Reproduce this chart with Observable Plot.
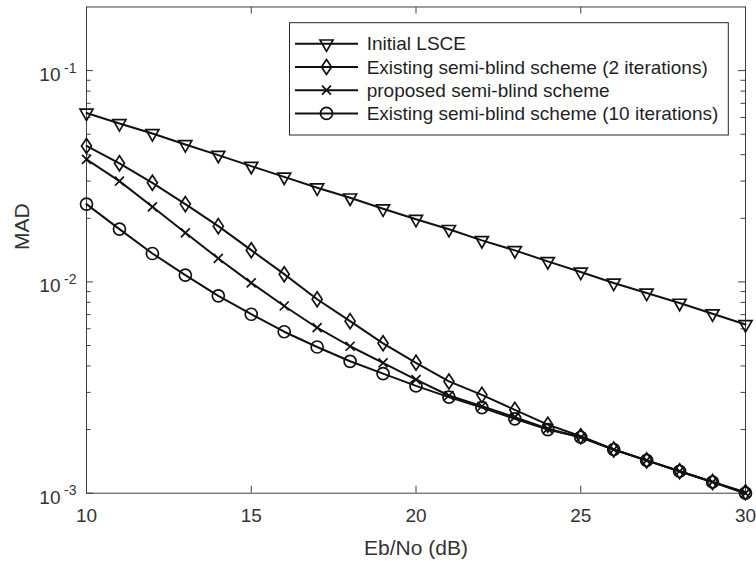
<!DOCTYPE html>
<html><head><meta charset="utf-8">
<script src="https://cdn.jsdelivr.net/npm/d3@7"></script>
<script src="https://cdn.jsdelivr.net/npm/@observablehq/plot@0.6"></script>
<style>html,body{margin:0;padding:0;background:#fff;}#chart{width:756px;height:565px;}</style>
</head><body><div id="chart"></div>
<script>
// ---- data ----
const ebno = [10,11,12,13,14,15,16,17,18,19,20,21,22,23,24,25,26,27,28,29,30];
const initialLSCE = [0.0630,0.0562,0.0504,0.0447,0.0398,0.0353,0.0314,0.0279,0.0250,0.0222,0.0198,0.01774,0.01573,0.01410,0.01251,0.01114,0.00988,0.00886,0.00794,0.00707,0.00629];
const semiBlind2 = [0.0440,0.0364,0.02945,0.02334,0.01836,0.01413,0.01088,0.00828,0.00652,0.00512,0.00414,0.00338,0.00292,0.00248,0.00211,0.00186,0.00161,0.00143,0.00127,0.00113,0.00101];
const proposed = [0.0380,0.0300,0.02267,0.01707,0.01291,0.00989,0.00769,0.00607,0.00496,0.00414,0.00345,0.00290,0.00258,0.00229,0.00202,0.00184,0.00161,0.00143,0.00127,0.00113,0.00100];
const semiBlind10 = [0.02334,0.01778,0.01363,0.01076,0.00859,0.00703,0.00581,0.00492,0.00421,0.00368,0.00322,0.00285,0.00254,0.00225,0.00200,0.00184,0.00161,0.00143,0.00127,0.00113,0.00100];
const seriesNames = ["Initial LSCE","Existing semi-blind scheme (2 iterations)","proposed semi-blind scheme","Existing semi-blind scheme (10 iterations)"];
const xTicks = [10,15,20,25,30];
const yTicks = [1e-3,1e-2,1e-1];
const yMinorTicks = [2e-3,3e-3,4e-3,5e-3,6e-3,7e-3,8e-3,9e-3,2e-2,3e-2,4e-2,5e-2,6e-2,7e-2,8e-2,9e-2];
const xDomain = [10,30];
const yDomain = [1e-3,0.2];
const xLabel = "Eb/No (dB)";
const yLabel = "MAD";

// ---- marker shapes ----
const triDown = {draw(c){c.moveTo(-6.5,-3.8);c.lineTo(6.5,-3.8);c.lineTo(0,7.6);c.closePath();}};
const diamond = {draw(c){c.moveTo(0,-7.5);c.lineTo(5,0);c.lineTo(0,7.5);c.lineTo(-5,0);c.closePath();}};
const times = {draw(c){c.moveTo(-4.5,-4.5);c.lineTo(4.5,4.5);c.moveTo(4.5,-4.5);c.lineTo(-4.5,4.5);}};
const circle = {draw(c){c.moveTo(6,0);c.arc(0,0,6,0,2*Math.PI);c.closePath();}};

const seriesValues = [initialLSCE, semiBlind2, proposed, semiBlind10];
const symbols = [triDown, diamond, times, circle];
const series = seriesNames.map((name,i)=>({name, symbol: symbols[i], data: ebno.map((x,j)=>({x, y: seriesValues[i][j]}))}));

const W = 756, H = 565, mL = 86, mR = 11, mT = 6.5, mB = 72.3;
const fw = W - mL - mR, fh = H - mT - mB;
const ink = "#111111", axisInk = "#404040", textInk = "#333333";
const font = "'Liberation Sans', Arial, Helvetica, sans-serif";

const marks = [];
// ticks (inward), MATLAB style
marks.push(Plot.ruleX(xTicks, {x: d=>d, insetTop: fh-7, stroke: axisInk, strokeWidth: 1}));
marks.push(Plot.ruleX(xTicks, {x: d=>d, insetBottom: fh-7, stroke: axisInk, strokeWidth: 1}));
marks.push(Plot.ruleY(yTicks, {y: d=>d, insetRight: fw-7, stroke: axisInk, strokeWidth: 1}));
marks.push(Plot.ruleY(yTicks, {y: d=>d, insetLeft: fw-7, stroke: axisInk, strokeWidth: 1}));
marks.push(Plot.ruleY(yMinorTicks, {y: d=>d, insetRight: fw-4.5, stroke: axisInk, strokeWidth: 1}));
marks.push(Plot.ruleY(yMinorTicks, {y: d=>d, insetLeft: fw-4.5, stroke: axisInk, strokeWidth: 1}));
marks.push(Plot.frame({stroke: axisInk, strokeWidth: 1}));

for (const s of series) {
  marks.push(Plot.line(s.data, {x: "x", y: "y", stroke: ink, strokeWidth: 2}));
  marks.push(Plot.dot(s.data, {x: "x", y: "y", symbol: s.symbol, stroke: ink, fill: "none", strokeWidth: 1.7}));
}

// tick labels
marks.push(Plot.text(xTicks, {x: d=>d, frameAnchor: "bottom", text: d=>String(d), dy: 23, lineAnchor: "middle", fontSize: 19, fill: textInk}));
marks.push(Plot.text(yTicks, {y: d=>d, frameAnchor: "left", text: ()=>"10", textAnchor: "end", dx: -26, dy: 4.5, lineAnchor: "middle", fontSize: 19, fill: textInk}));
marks.push(Plot.text(yTicks, {y: d=>d, frameAnchor: "left", text: d=>String(Math.round(Math.log10(d))), textAnchor: "end", dx: -10, dy: -2.5, lineAnchor: "middle", fontSize: 14, fill: textInk}));
// axis labels
marks.push(Plot.text([xLabel], {frameAnchor: "bottom", text: d=>d, dy: 55.5, lineAnchor: "middle", fontSize: 21, fill: textInk}));
marks.push(Plot.text([yLabel], {frameAnchor: "left", text: d=>d, rotate: -90, dx: -64, lineAnchor: "middle", fontSize: 21, fill: textInk}));

const chart = Plot.plot({
  width: W, height: H,
  marginLeft: mL, marginRight: mR, marginTop: mT, marginBottom: mB,
  x: {domain: xDomain, axis: null},
  y: {type: "log", domain: yDomain, axis: null},
  style: {fontFamily: font, background: "white"},
  marks
});
document.getElementById("chart").appendChild(chart);

// legend
const svg = d3.select(chart);
const g = svg.append("g").attr("font-family", font).attr("text-anchor", "start");
g.append("rect").attr("x", 289.5).attr("y", 22.7).attr("width", 438.8).attr("height", 112.3)
  .attr("fill", "white").attr("stroke", "#262626").attr("stroke-width", 1);
series.forEach((s,i)=>{
  const y = 43.8 + 23.2*i;
  g.append("line").attr("x1", 295).attr("x2", 358).attr("y1", y).attr("y2", y)
    .attr("stroke", ink).attr("stroke-width", 2);
  g.append("path").attr("transform", `translate(326.5,${y})`).attr("d", d3.symbol(s.symbol, 64)())
    .attr("fill", "none").attr("stroke", ink).attr("stroke-width", 1.7);
  g.append("text").attr("x", 366.7).attr("y", y).attr("dy", "0.35em").attr("font-size", 19)
    .attr("text-anchor", "start").attr("fill", "#1f1f1f").text(s.name);
});
</script></body></html>
